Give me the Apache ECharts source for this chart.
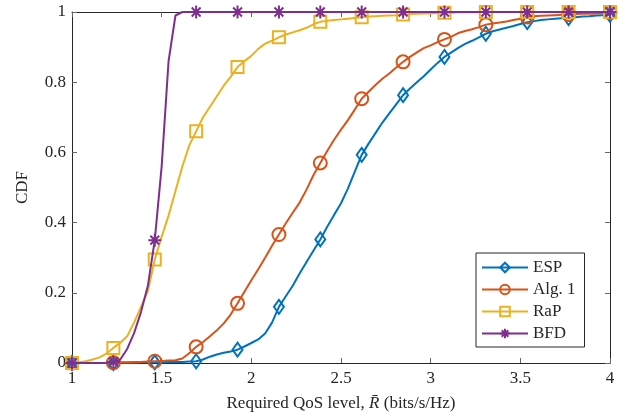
<!DOCTYPE html>
<html>
<head>
<meta charset="utf-8">
<script src="https://cdn.jsdelivr.net/npm/echarts@6/dist/echarts.min.js"></script>
<style>
  html, body { margin: 0; padding: 0; background: #fff; }
  #chart { width: 628px; height: 419px; }
</style>
</head>
<body>
<div id="chart"></div>
<script>
// Required QoS level sampling grid: 1 to 4 bits/s/Hz in 78 equal steps
const RATE_STEPS = 78;
const rateGrid = Array.from({ length: RATE_STEPS + 1 }, (_, i) => 1 + (3 * i) / RATE_STEPS);
// a marker is drawn on every 6th sample
const MARKER_EVERY = 6;

const seriesNames = ['ESP', 'Alg. 1', 'RaP', 'BFD'];

const cdfESP = [
  0, 0, 0, 0, 0, 0, 0, 0.001, 0.001, 0.001, 0.002, 0.002, 0.002, 0.002, 0.003, 0.003,
  0.003, 0.004, 0.005, 0.010, 0.018, 0.024, 0.029, 0.033, 0.038, 0.047, 0.057, 0.067,
  0.084, 0.115, 0.160, 0.190, 0.220, 0.255, 0.288, 0.320, 0.352, 0.388, 0.422, 0.455,
  0.497, 0.545, 0.593, 0.625, 0.655, 0.685, 0.711, 0.737, 0.763, 0.782, 0.800, 0.817,
  0.836, 0.855, 0.872, 0.885, 0.898, 0.909, 0.918, 0.928, 0.938, 0.945, 0.950, 0.955,
  0.960, 0.966, 0.971, 0.974, 0.977, 0.979, 0.981, 0.982, 0.983, 0.985, 0.987, 0.988,
  0.990, 0.991, 0.992
];

const cdfAlg1 = [
  0, 0, 0, 0, 0, 0, 0.001, 0.002, 0.002, 0.003, 0.003, 0.004, 0.005, 0.006, 0.007, 0.008,
  0.013, 0.028, 0.046, 0.060, 0.076, 0.093, 0.113, 0.138, 0.170, 0.203, 0.236, 0.267,
  0.300, 0.334, 0.366, 0.398, 0.428, 0.457, 0.494, 0.535, 0.570, 0.604, 0.636, 0.665,
  0.692, 0.722, 0.753, 0.773, 0.792, 0.810, 0.825, 0.842, 0.858, 0.872, 0.885, 0.897,
  0.905, 0.914, 0.922, 0.930, 0.940, 0.946, 0.951, 0.957, 0.964, 0.967, 0.970, 0.973,
  0.977, 0.981, 0.986, 0.988, 0.989, 0.990, 0.991, 0.992, 0.993, 0.994, 0.995, 0.995,
  0.996, 0.997, 0.998
];

const cdfRaP = [
  0, 0.002, 0.005, 0.010, 0.016, 0.027, 0.043, 0.058, 0.076, 0.115, 0.160, 0.205, 0.295,
  0.360, 0.420, 0.490, 0.560, 0.620, 0.660, 0.700, 0.730, 0.760, 0.790, 0.815, 0.843,
  0.860, 0.875, 0.895, 0.910, 0.918, 0.928, 0.936, 0.942, 0.948, 0.955, 0.965, 0.972,
  0.975, 0.977, 0.979, 0.981, 0.983, 0.985, 0.987, 0.988, 0.989, 0.990, 0.991, 0.993,
  0.994, 0.995, 0.996, 0.996, 0.997, 0.998, 0.998, 0.999, 0.999, 0.999, 0.999, 1,
  1, 1, 1, 1, 1, 1, 1, 1, 1, 1, 1, 1, 1, 1, 1, 1, 1, 1
];

const cdfBFD = [
  0, 0, 0, 0, 0, 0.001, 0.003, 0.010, 0.040, 0.085, 0.145, 0.220, 0.350, 0.560, 0.860,
  0.990, 1, 1, 1, 1, 1, 1, 1, 1, 1, 1, 1, 1, 1, 1, 1, 1, 1, 1, 1, 1, 1, 1, 1, 1, 1, 1,
  1, 1, 1, 1, 1, 1, 1, 1, 1, 1, 1, 1, 1, 1, 1, 1, 1, 1, 1, 1, 1, 1, 1, 1, 1, 1, 1, 1,
  1, 1, 1, 1, 1, 1, 1, 1, 1
];

const xTicks = [1, 1.5, 2, 2.5, 3, 3.5, 4];
const yTicks = [0, 0.2, 0.4, 0.6, 0.8, 1];

const FONT = '"Liberation Serif", "DejaVu Serif", serif';
const INK = '#262626';

// MATLAB-like asterisk drawn as strokes
const ASTERISK = 'path://M5,0L5,10M0,5L10,5M1.6,1.6L8.4,8.4M1.6,8.4L8.4,1.6';

const styles = [
  { color: '#0072BD', symbol: 'diamond', size: [10, 14] },
  { color: '#D95319', symbol: 'circle', size: 13 },
  { color: '#EDB120', symbol: 'rect', size: 12 },
  { color: '#7E2F8E', symbol: ASTERISK, size: 13 }
];

const cdfs = [cdfESP, cdfAlg1, cdfRaP, cdfBFD];

function buildData(values) {
  return values.map((v, i) => {
    const item = { value: [rateGrid[i], v] };
    if (i % MARKER_EVERY !== 0) item.symbol = 'none';
    return item;
  });
}

const chart = echarts.init(document.getElementById('chart'), null, { renderer: 'canvas' });

const labelStyle = { color: INK, fontFamily: FONT, fontSize: 17 };

const baseAxis = {
  axisLine: { show: true, onZero: false, lineStyle: { color: INK, width: 1 } },
  axisTick: { show: true, inside: true, length: 5, lineStyle: { color: '#666', width: 1 } },
  splitLine: { show: false }
};

const option = {
  backgroundColor: '#fff',
  animation: false,
  grid: { left: 72, right: 18, top: 12, bottom: 56, containLabel: false },
  xAxis: [
    Object.assign({}, baseAxis, {
      type: 'value', min: xTicks[0], max: xTicks[xTicks.length - 1], interval: 0.5,
      axisLabel: Object.assign({}, labelStyle, { margin: 7 }),
      name: 'Required QoS level, {r|R\u0304} (bits/s/Hz)',
      nameLocation: 'middle', nameGap: 32,
      nameTextStyle: Object.assign({}, labelStyle, {
        rich: { r: Object.assign({}, labelStyle, { fontStyle: 'italic' }) }
      })
    }),
    Object.assign({}, baseAxis, {
      type: 'value', position: 'top', min: xTicks[0], max: xTicks[xTicks.length - 1], interval: 0.5,
      axisLabel: { show: false }
    })
  ],
  yAxis: [
    Object.assign({}, baseAxis, {
      type: 'value', min: yTicks[0], max: yTicks[yTicks.length - 1], interval: 0.2,
      axisLabel: Object.assign({}, labelStyle, { margin: 6 }),
      name: 'CDF', nameLocation: 'middle', nameGap: 41, nameRotate: 90,
      nameTextStyle: labelStyle
    }),
    Object.assign({}, baseAxis, {
      type: 'value', position: 'right', min: yTicks[0], max: yTicks[yTicks.length - 1], interval: 0.2,
      axisLabel: { show: false }
    })
  ],
  legend: {
    orient: 'vertical',
    left: 476, top: 253,
    padding: [6, 9, 5, 5],
    itemGap: 5,
    itemWidth: 46, itemHeight: 12,
    backgroundColor: '#fff',
    borderColor: INK, borderWidth: 1, borderRadius: 0,
    textStyle: Object.assign({}, labelStyle, { lineHeight: 16 }),
    data: seriesNames
  },
  series: cdfs.map((vals, k) => ({
    name: seriesNames[k],
    type: 'line',
    xAxisIndex: 0, yAxisIndex: 0,
    data: buildData(vals),
    symbol: styles[k].symbol,
    symbolSize: styles[k].size,
    showAllSymbol: true,
    lineStyle: { color: styles[k].color, width: 2 },
    itemStyle: { color: 'rgba(0,0,0,0)', borderColor: styles[k].color, borderWidth: 2 },
    emphasis: { disabled: true },
    z: 2 + k
  }))
};

chart.setOption(option);
</script>
</body>
</html>
